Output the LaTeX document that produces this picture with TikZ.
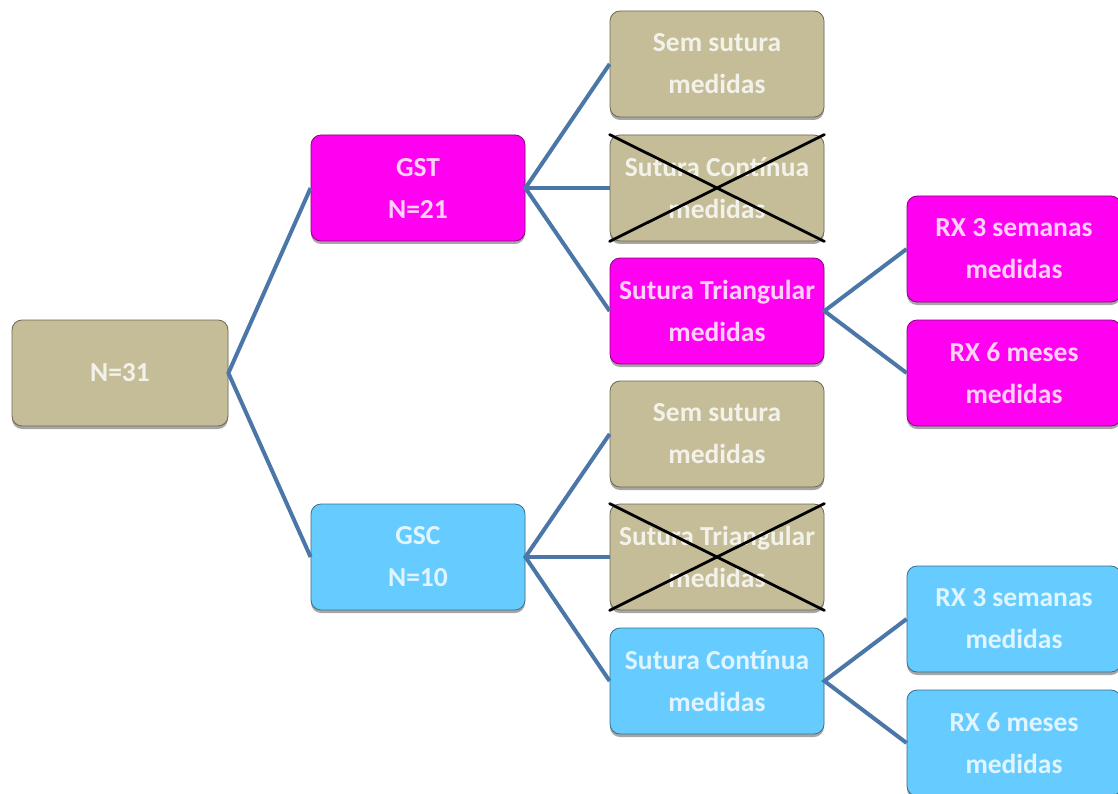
\documentclass[tikz,border=0pt]{standalone}
\usepackage{fontspec}
\setmainfont{Carlito}
\usetikzlibrary{shadows}
\definecolor{tanc}{HTML}{C4BD97}
\definecolor{magc}{HTML}{FF00F0}
\definecolor{bluec}{HTML}{66CCFF}
\definecolor{linec}{HTML}{4A76A8}
\tikzset{
  box/.style={rounded corners=10pt, minimum width=214pt, minimum height=106pt,
    align=center, inner sep=0pt, font=\fontsize{27.5}{42}\selectfont\bfseries,
    line width=0.8pt,
    drop shadow={shadow xshift=0pt, shadow yshift=-3pt, opacity=0.35, fill=black}},
  tanbox/.style={box, fill=tanc, draw=tanc!55!black, text=white!80!tanc},
  magbox/.style={box, fill=magc, draw=magc!55!black, text=white!82!magc},
  bluebox/.style={box, fill=bluec, draw=bluec!55!black, text=white!80!bluec},
  conn/.style={draw=linec, line width=4pt},
  crossline/.style={draw=black, line width=2.8pt, line cap=round}
}
\begin{document}
\begin{tikzpicture}[x=1pt,y=-1pt]
\useasboundingbox (0,0) rectangle (1118,794);
\fill[white] (0,0) rectangle (1118,794);
\node[tanbox, minimum width=216pt] (root) at (120,373) {N=31};
\node[magbox] (gst) at (418,188) {GST\\N=21};
\node[bluebox] (gsc) at (418,557) {GSC\\N=10};
\node[tanbox] (c1) at (717,64) {Sem sutura\\medidas};
\node[tanbox] (c2) at (717,188) {Sutura Contínua\\medidas};
\node[magbox] (c3) at (717,311) {Sutura Triangular\\medidas};
\node[tanbox] (c4) at (717,434) {Sem sutura\\medidas};
\node[tanbox] (c5) at (717,557) {Sutura Triangular\\medidas};
\node[bluebox] (c6) at (717,681) {Sutura Contínua\\medidas};
\node[magbox] (r1) at (1014,249) {RX 3 semanas\\medidas};
\node[magbox] (r2) at (1014,373) {RX 6 meses\\medidas};
\node[bluebox] (r3) at (1014,619) {RX 3 semanas\\medidas};
\node[bluebox] (r4) at (1014,743) {RX 6 meses\\medidas};
\draw[conn] (gst.west) -- (root.east) -- (gsc.west);
\draw[conn] (c1.west) -- (gst.east) -- (c3.west);
\draw[conn] (gst.east) -- (c2.west);
\draw[conn] (c4.west) -- (gsc.east) -- (c6.west);
\draw[conn] (gsc.east) -- (c5.west);
\draw[conn] (r1.west) -- (c3.east) -- (r2.west);
\draw[conn] (r3.west) -- (c6.east) -- (r4.west);
\draw[crossline] (c2.north west) -- (c2.south east);
\draw[crossline] (c2.south west) -- (c2.north east);
\draw[crossline] (c5.north west) -- (c5.south east);
\draw[crossline] (c5.south west) -- (c5.north east);
\end{tikzpicture}
\end{document}
